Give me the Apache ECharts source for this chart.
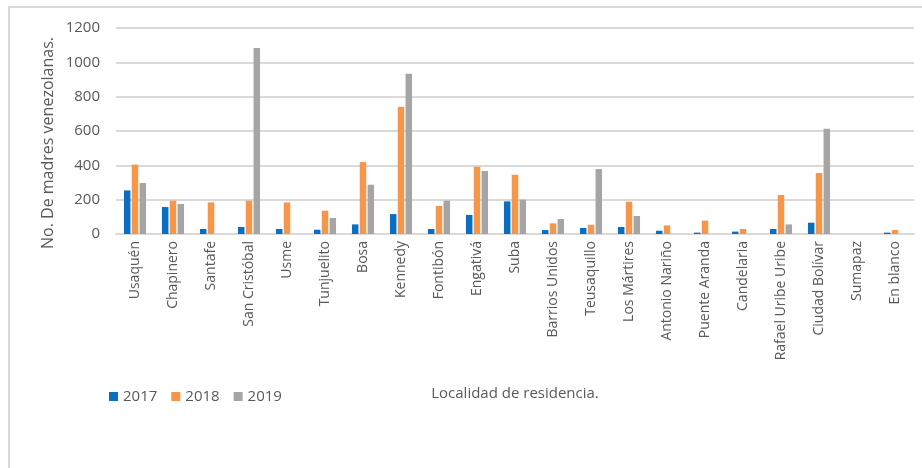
<!DOCTYPE html>
<html>
<head>
<meta charset="utf-8">
<style>
  html, body { margin: 0; padding: 0; background: #fff; }
  #main { width: 922px; height: 468px; }
</style>
<script src="https://cdn.jsdelivr.net/npm/echarts@6/dist/echarts.min.js"></script>
</head>
<body>
<div id="main"></div>
<script>
// datos
const localidades = ['Usaquén', 'Chapinero', 'Santafe', 'San Cristóbal', 'Usme', 'Tunjuelito',
  'Bosa', 'Kennedy', 'Fontibón', 'Engativá', 'Suba', 'Barrios Unidos', 'Teusaquillo',
  'Los Mártires', 'Antonio Nariño', 'Puente Aranda', 'Candelaria', 'Rafael Uribe Uribe',
  'Ciudad Bolívar', 'Sumapaz', 'En blanco'];
const v2017 = [254, 157, 29, 41, 29, 25, 56, 116, 29, 111, 190, 23, 35, 41, 19, 8, 14, 29, 66, null, 8];
const v2018 = [404, 194, 184, 194, 184, 136, 419, 741, 163, 392, 345, 62, 54, 188, 50, 78, 29, 227, 355, null, 23];
const v2019 = [297, 175, null, 1083, null, 93, 287, 933, 194, 367, 200, 87, 378, 105, null, null, null, 56, 613, null, null];
const yTicks = { min: 0, max: 1200, interval: 200 };

const gris = '#595959';
const font = '"Open Sans", "Liberation Sans", sans-serif';

const myChart = echarts.init(document.getElementById('main'), null, { renderer: 'canvas' });

function barra(name, data, color) {
  return {
    name: name,
    type: 'bar',
    data: data,
    barWidth: 6.5,
    barGap: '20%',
    itemStyle: { color: color }
  };
}

myChart.setOption({
  animation: false,
  backgroundColor: '#fff',
  graphic: [{
    type: 'polyline',
    shape: { points: [[9, 468], [9, 7], [922, 7]] },
    style: { stroke: '#d9d9d9', lineWidth: 2, fill: null }
  }, {
    // título del eje y
    type: 'text',
    x: 48,
    y: 143,
    rotation: Math.PI / 2,
    style: {
      text: 'No. De madres venezolanas.',
      fill: gris,
      font: '16px ' + font,
      textAlign: 'center',
      textVerticalAlign: 'middle'
    }
  }],
  legend: {
    left: 104,
    top: 384,
    itemWidth: 9,
    itemHeight: 9,
    itemGap: 14,
    icon: 'rect',
    textStyle: { color: gris, fontSize: 15, fontFamily: font },
    data: ['2017', '2018', '2019']
  },
  grid: { left: 116, right: 8, top: 28, height: 206, containLabel: false },
  xAxis: {
    type: 'category',
    data: localidades,
    axisLine: { lineStyle: { color: '#d9d9d9', width: 2 } },
    axisTick: { show: false },
    axisLabel: {
      rotate: 90,
      interval: 0,
      margin: 7,
      color: gris,
      fontSize: 14,
      fontFamily: font
    },
    name: 'Localidad de residencia.',
    nameLocation: 'middle',
    nameGap: 152,
    nameTextStyle: { color: gris, fontSize: 15, fontFamily: font }
  },
  yAxis: {
    type: 'value',
    min: yTicks.min,
    max: yTicks.max,
    interval: yTicks.interval,
    axisLine: { show: false },
    axisTick: { show: false },
    splitLine: { lineStyle: { color: '#d9d9d9', width: 2 } },
    axisLabel: { color: gris, fontSize: 15, fontFamily: font, margin: 16, formatter: v => String(v) }
  },
  series: [
    barra('2017', v2017, '#0a6fc2'),
    barra('2018', v2018, '#f5964a'),
    barra('2019', v2019, '#a5a5a5')
  ]
});
</script>
</body>
</html>
